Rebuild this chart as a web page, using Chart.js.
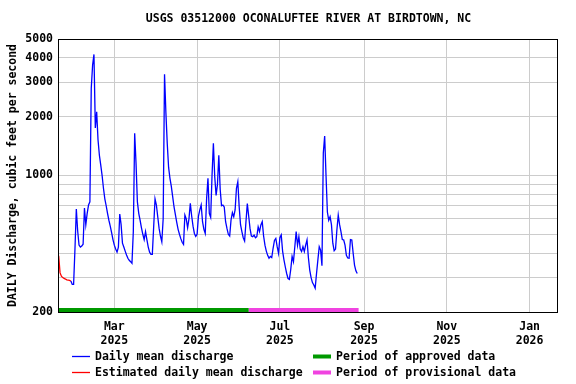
<!DOCTYPE html>
<html>
<head>
<meta charset="utf-8">
<title>USGS 03512000 OCONALUFTEE RIVER AT BIRDTOWN, NC</title>
<script src="https://cdn.jsdelivr.net/npm/chart.js@4.4.1/dist/chart.umd.min.js"></script>
<style>
  html, body { margin: 0; padding: 0; background: #fff; }
  #wrap { width: 576px; height: 384px; }
</style>
</head>
<body>
<div id="wrap"><canvas id="mycanvas" width="576" height="384"></canvas></div>
<script>
var chartTitle = 'USGS 03512000 OCONALUFTEE RIVER AT BIRDTOWN, NC';
var yTitle = 'DAILY Discharge, cubic feet per second';

// daily mean discharge (cfs), one value per day starting at dailyStart
var dailyStart = '2025-01-28';
var dailyValues = [
	288, 277, 277, 420, 674, 520, 440, 430, 435, 445, 681, 560, 640, 706,
	733, 2800, 3680, 4170, 1750, 2120, 1520, 1270, 1130, 1000, 860, 760, 700, 640,
	590, 550, 510, 470, 440, 420, 405, 430, 634, 560, 450, 430, 410, 392,
	377, 368, 362, 355, 516, 1644, 1154, 733, 640, 590, 540, 500, 470, 516,
	470, 430, 405, 395, 395, 546, 759, 706, 615, 536, 490, 458, 600, 3300,
	2100, 1460, 1100, 967, 880, 780, 690, 630, 575, 530, 500, 475, 455, 444,
	627, 600, 540, 600, 720, 620, 550, 505, 488, 500, 620, 667, 706, 580,
	530, 505, 760, 967, 640, 610, 1000, 1462, 984, 790, 900, 1271, 850, 700,
	706, 690, 580, 536, 500, 490, 592, 645, 615, 666, 860, 929, 692, 560,
	516, 480, 462, 580, 718, 620, 536, 490, 486, 495, 480, 486, 546, 516,
	558, 580, 490, 440, 410, 390, 377, 385, 380, 424, 465, 476, 432, 400,
	480, 496, 410, 370, 340, 315, 297, 294, 330, 385, 362, 432, 516, 440,
	486, 420, 408, 432, 408, 440, 468, 380, 328, 300, 283, 275, 265, 315,
	370, 432, 415, 345, 1303, 1593, 1000, 650, 590, 615, 560, 450, 412, 420,
	526, 627, 560, 516, 470, 468, 440, 390, 378, 377, 470, 468, 400, 348, 325, 315
];

// estimated daily mean discharge (cfs)
var estimatedStart = '2025-01-19';
var estimatedValues = [388, 318, 305, 300, 297, 295, 292, 291, 290, 288];

// data approval periods
var approvedPeriod = ['2025-01-01', '2025-06-08'];
var provisionalPeriod = ['2025-06-08', '2025-08-28'];

// axis
var xTickDates = ['2025-03-01', '2025-05-01', '2025-07-01', '2025-09-01', '2025-11-01', '2026-01-01'];
var monthNames = ['Jan', 'Feb', 'Mar', 'Apr', 'May', 'Jun', 'Jul', 'Aug', 'Sep', 'Oct', 'Nov', 'Dec'];
var yTicks = [200, 300, 400, 500, 600, 700, 800, 900, 1000, 2000, 3000, 4000, 5000];
var yLabels = [200, 1000, 2000, 3000, 4000, 5000];

var DAY = 86400000;
var BASE = Date.UTC(2025, 0, 1);

function dayOf(s){
	var p = s.split('-');
	return (Date.UTC(+p[0], +p[1] - 1, +p[2]) - BASE) / DAY;
}

function series(start, values){
	var d0 = dayOf(start);
	return values.map(function(v, i){ return {x: d0 + i, y: v}; });
}

var xMin = dayOf('2025-01-18') + 0.5;
var xMax = dayOf('2026-01-21') + 0.2;
var barLevel = 205; // period bars sit along the bottom of the plot

var monoFont = "'DejaVu Sans Mono', 'Liberation Mono', monospace";
var textFont = {family: monoFont, size: 11.5, weight: 'bold'};

// frame around the plot
var framePlugin = {
	id: 'frame',
	afterDraw: function(chart){
		var a = chart.chartArea, c = chart.ctx;
		c.save();
		c.strokeStyle = '#000';
		c.lineWidth = 1;
		c.strokeRect(Math.round(a.left) + 0.5, Math.round(a.top) + 0.5, Math.round(a.right - a.left), Math.round(a.bottom - a.top));
		c.restore();
	}
};

// title centred over the plot
var titlePlugin = {
	id: 'plotTitle',
	afterDraw: function(chart){
		var a = chart.chartArea, c = chart.ctx;
		c.save();
		c.font = 'bold 11.5px ' + monoFont;
		c.fillStyle = '#000';
		c.textAlign = 'center';
		c.textBaseline = 'middle';
		c.fillText(chartTitle, (a.left + a.right) / 2 + 1, 19);
		c.restore();
	}
};

// two column legend below the axis
var legendPlugin = {
	id: 'usgsLegend',
	afterDraw: function(chart){
		var a = chart.chartArea, c = chart.ctx;
		var cols = [a.left + 14, a.left + 255];
		var rows = [a.bottom + 44.5, a.bottom + 60.5];
		c.save();
		c.font = 'bold 11.5px ' + monoFont;
		c.textBaseline = 'middle';
		c.textAlign = 'left';
		chart.data.datasets.forEach(function(ds, i){
			var x = cols[i >= 2 ? 1 : 0];
			var y = rows[i % 2];
			c.strokeStyle = ds.borderColor;
			c.lineWidth = ds.borderWidth;
			c.beginPath();
			c.moveTo(x, y);
			c.lineTo(x + 18, y);
			c.stroke();
			c.fillStyle = '#000';
			c.fillText(ds.label, x + 23, y + 1);
		});
		c.restore();
	}
};

var chartdata = {
	datasets: [
		{
			label: 'Daily mean discharge',
			data: series(dailyStart, dailyValues),
			borderColor: '#0000ff',
			borderWidth: 1.3,
			pointRadius: 0,
			tension: 0
		},
		{
			label: 'Estimated daily mean discharge',
			data: series(estimatedStart, estimatedValues),
			borderColor: '#ff0000',
			borderWidth: 1.3,
			pointRadius: 0,
			tension: 0
		},
		{
			label: 'Period of approved data',
			data: [{x: dayOf(approvedPeriod[0]), y: barLevel}, {x: dayOf(approvedPeriod[1]), y: barLevel}],
			borderColor: '#009900',
			borderWidth: 4,
			pointRadius: 0,
			clip: 0
		},
		{
			label: 'Period of provisional data',
			data: [{x: dayOf(provisionalPeriod[0]), y: barLevel}, {x: dayOf(provisionalPeriod[1]), y: barLevel}],
			borderColor: '#f043e0',
			borderWidth: 4,
			pointRadius: 0,
			clip: 0
		}
	]
};

var ctx = document.getElementById('mycanvas');

var hydrograph = new Chart(ctx, {
	type: 'line',
	data: chartdata,
	options: {
		responsive: false,
		animation: false,
		layout: {padding: {top: 39, right: 19, bottom: 40, left: 0}},
		plugins: {
			legend: {display: false},
			title: {display: false},
			tooltip: {enabled: false}
		},
		scales: {
			x: {
				type: 'linear',
				min: xMin,
				max: xMax,
				afterBuildTicks: function(scale){
					scale.ticks = xTickDates.map(function(d){ return {value: dayOf(d)}; });
				},
				afterFit: function(scale){ scale.height = 32; },
				ticks: {
					autoSkip: false,
					maxRotation: 0,
					padding: 8,
					color: '#000',
					font: textFont,
					callback: function(value){
						var d = new Date(BASE + value * DAY);
						return [monthNames[d.getUTCMonth()], String(d.getUTCFullYear())];
					}
				},
				grid: {color: '#cccccc', drawTicks: false},
				border: {color: '#000'}
			},
			y: {
				type: 'logarithmic',
				min: 200,
				max: 5000,
				afterBuildTicks: function(scale){
					scale.ticks = yTicks.map(function(v){ return {value: v}; });
				},
				afterFit: function(scale){ scale.width = 58; },
				ticks: {
					autoSkip: false,
					padding: 5,
					color: '#000',
					font: textFont,
					callback: function(value){
						return yLabels.indexOf(value) >= 0 ? String(value) : '';
					}
				},
				grid: {color: '#cccccc', drawTicks: false},
				border: {color: '#000'},
				title: {
					display: true,
					text: yTitle,
					color: '#000',
					font: textFont,
					padding: {top: 6, bottom: 0}
				}
			}
		}
	},
	plugins: [framePlugin, titlePlugin, legendPlugin]
});
</script>
</body>
</html>
